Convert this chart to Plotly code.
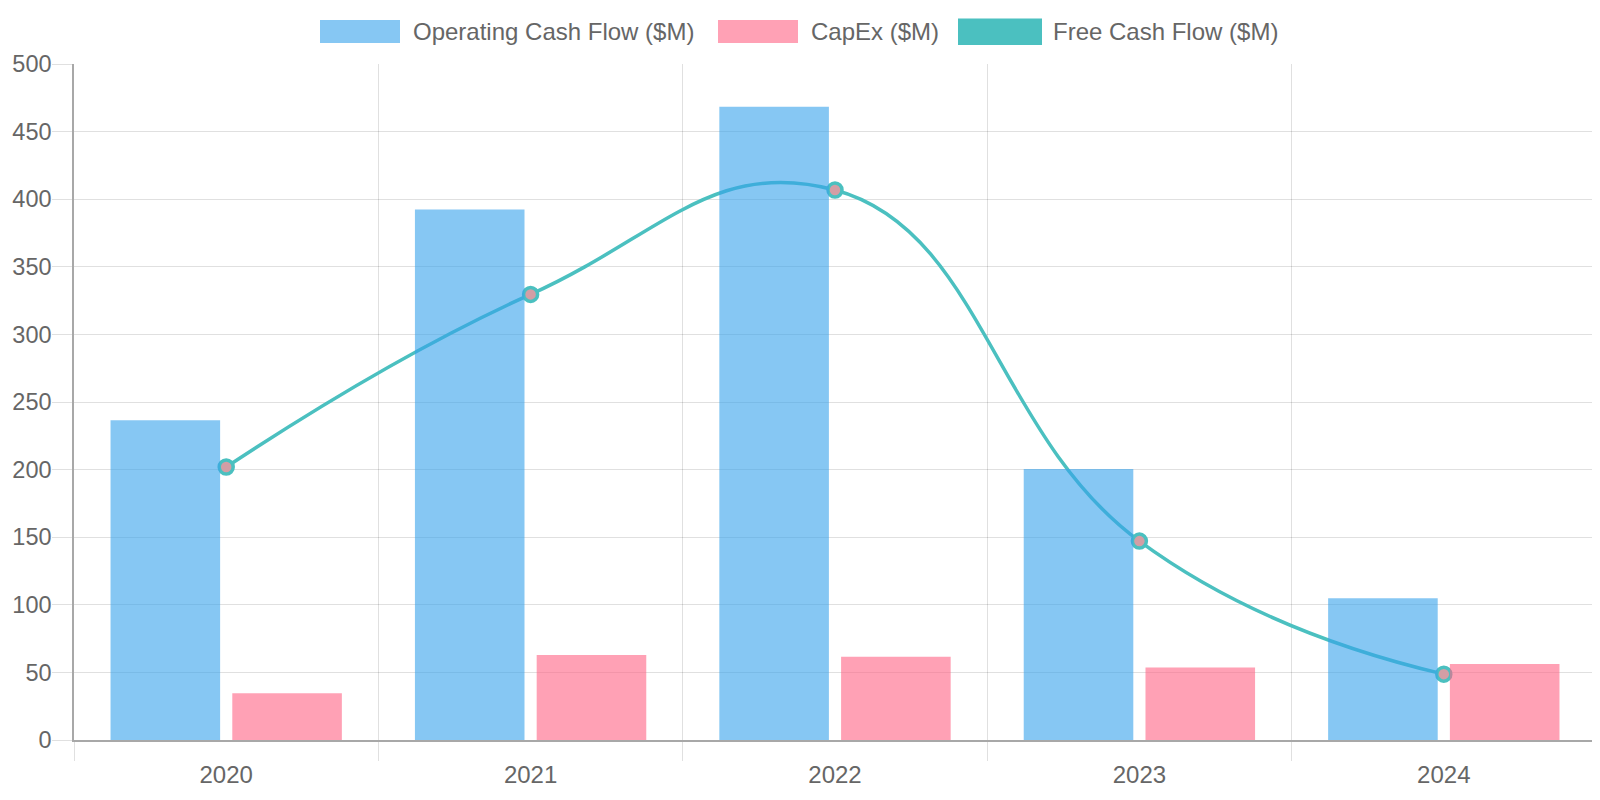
import plotly.graph_objects as go

# ---- data ----
years = ["2020", "2021", "2022", "2023", "2024"]
ocf = [236.5, 392.4, 468.3, 200.5, 104.9]
capex = [34.6, 62.8, 61.5, 53.6, 56.2]
fcf = [201.9, 329.6, 406.8, 147.1, 48.7]
y_tick_values = [0, 50, 100, 150, 200, 250, 300, 350, 400, 450, 500]
legend_labels = ["Operating Cash Flow ($M)", "CapEx ($M)", "Free Cash Flow ($M)"]

# ---- styles ----
W, H = 1600, 800
OFF = 8  # page body margin
L, R, T, B = 74 - OFF, 12, 64 - OFF, 68
FONT = "Liberation Sans, Arial, Helvetica, sans-serif"
FS = 24
TXT = "#666666"
BLUE = "rgba(54,162,235,0.6)"
PINK = "rgba(255,99,132,0.6)"
TEAL = "rgb(75,192,192)"
GRID = "rgba(0,0,0,0.12)"
AXIS = "#a8a8a8"

pw, ph = W - L - R, H - T - B


def px(x):
    return (x - OFF - L) / pw


def py(y):
    return (H - B - (y - OFF)) / ph


fig = go.Figure()

# line first, on the base subplot, so the translucent bars (overlay axis) sit above it
fig.add_trace(go.Scatter(
    x=years, y=fcf, name=legend_labels[2], mode="lines+markers",
    line=dict(color=TEAL, width=3.5, shape="spline", smoothing=1.3),
    marker=dict(size=14, color="#d39ea5", line=dict(color=TEAL, width=3.5)),
    xaxis="x", yaxis="y", showlegend=False,
))
fig.add_trace(go.Bar(
    x=years, y=ocf, name=legend_labels[0], marker=dict(color=BLUE, line=dict(width=0)),
    xaxis="x", yaxis="y2", showlegend=False,
))
fig.add_trace(go.Bar(
    x=years, y=capex, name=legend_labels[1], marker=dict(color=PINK, line=dict(width=0)),
    xaxis="x", yaxis="y2", showlegend=False,
))

# ---- custom legend (Chart.js style boxes) ----
legend_items = [
    (320, 400, 20, 43, BLUE, None, 411, legend_labels[0]),
    (718, 798, 20, 43, PINK, None, 809, legend_labels[1]),
    (959, 1041, 19.5, 44, TEAL, TEAL, 1051, legend_labels[2]),
]
shapes = []
annotations = []
for x0, x1, y0, y1, fill, border, tx, label in legend_items:
    shapes.append(dict(
        type="rect", xref="paper", yref="paper",
        x0=px(x0), x1=px(x1), y0=py(y1), y1=py(y0),
        fillcolor=fill, line=dict(width=0 if border is None else 2, color=border or fill),
    ))
    annotations.append(dict(
        text=label, xref="paper", yref="paper", x=px(tx), y=py(31.5),
        xanchor="left", yanchor="middle", showarrow=False,
        font=dict(family=FONT, size=FS, color=TXT),
    ))

fig.update_layout(
    width=W, height=H,
    margin=dict(l=L, r=R, t=T, b=B, pad=0, autoexpand=False),
    paper_bgcolor="white", plot_bgcolor="white",
    font=dict(family=FONT, size=FS, color=TXT),
    barmode="group", bargap=0.2, bargroupgap=0.1,
    showlegend=False,
    shapes=shapes, annotations=annotations,
    xaxis=dict(
        type="category", categoryorder="array", categoryarray=years,
        tickson="boundaries", ticks="outside", ticklen=19, tickcolor=GRID, tickwidth=1.3,
        ticklabelstandoff=12, automargin=False,
        showgrid=True, gridcolor=GRID, gridwidth=1.3,
        showline=True, linecolor=AXIS, linewidth=1.5,
        tickfont=dict(family=FONT, size=FS, color=TXT),
        zeroline=False, fixedrange=True,
    ),
    yaxis=dict(
        range=[0, 500], tickvals=y_tick_values, automargin=False,
        ticks="outside", ticklen=20, tickcolor=GRID, tickwidth=1.3,
        ticklabelstandoff=-4,
        showgrid=True, gridcolor=GRID, gridwidth=1.3,
        showline=True, linecolor=AXIS, linewidth=1.5,
        zeroline=False,
        tickfont=dict(family=FONT, size=FS - 0.5, color=TXT),
    ),
    yaxis2=dict(
        range=[0, 500], overlaying="y", visible=False, automargin=False,
        showgrid=False, zeroline=False,
    ),
)

fig.write_html("out.html")
